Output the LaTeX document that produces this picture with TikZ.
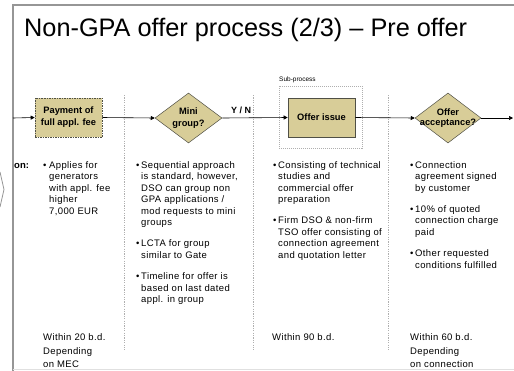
\documentclass[tikz,border=0pt]{standalone}
\usepackage{fontspec}
\setmainfont{Liberation Sans}
\newfontfamily\descfam[LetterSpace=4]{Liberation Sans}
\usetikzlibrary{shapes.geometric,arrows.meta}
\definecolor{khaki}{RGB}{216,205,152}
\definecolor{boxline}{RGB}{80,80,70}
\definecolor{framegray}{RGB}{150,150,150}
\definecolor{sepgray}{RGB}{175,175,175}
\newcommand{\txtlines}[1]{\begin{tabular}[t]{@{}l@{}}#1\end{tabular}}
\tikzset{
  desc/.style={font=\descfam\fontsize{9.5}{11.5}\selectfont, anchor=base west, inner sep=0pt},
  bul/.style={font=\fontsize{9.5}{11.5}\selectfont, anchor=base west, inner sep=0pt},
  boxtext/.style={font=\bfseries\fontsize{9.3}{12}\selectfont, align=center, inner sep=0pt},
  procbox/.style={draw=boxline, fill=khaki, minimum width=67pt, minimum height=39pt, inner sep=0pt, line width=0.6pt, font=\bfseries\fontsize{9.3}{12}\selectfont, align=center},
  decision/.style={diamond, draw=boxline, fill=khaki, minimum width=67pt, minimum height=50pt, inner sep=0pt, line width=0.5pt},
  subbox/.style={draw=sepgray, dash pattern=on 1pt off 1pt, line width=0.5pt, minimum width=83pt, minimum height=62pt, inner sep=0pt},
  flow/.style={draw=black, line width=0.6pt, -{Triangle[length=4pt,width=4pt]}},
  sepline/.style={draw=sepgray, line width=0.6pt, dash pattern=on 1.2pt off 1.2pt},
  framel/.style={draw=framegray, line width=1.6pt},
}
\begin{document}
\begin{tikzpicture}[x=1pt,y=-1pt]
\useasboundingbox (0,0) rectangle (514,370);
% frame
\draw[framel] (13,371) -- (13,5) -- (515,5);
\draw[draw=black!12, line width=0.6pt] (13,369) -- (514,369);
\draw[draw=framegray, line width=0.8pt] (0,172) -- (4,189.5) -- (0,207);
% title
\node[anchor=base west, inner sep=0pt, font=\fontsize{25.3}{30}\selectfont] (title) at (24,36) {Non-GPA offer process (2/3) \textendash{} Pre offer};
% separators
\draw[sepline] (124,95) -- (124,350);
\draw[sepline] (253,95) -- (253,350);
\draw[sepline] (388,95) -- (388,350);
% process elements
\node[subbox] (sub) at (320.5,117) {};
\node[anchor=south west, inner sep=0pt, font=\fontsize{6.5}{7}\selectfont] (sublabel) at (279,83.5) {Sub-process};
\node[procbox, dash pattern=on 1.5pt off 1pt] (pay) at (68.5,117.5) {Payment of\\full appl. fee};
\node[decision] (mini) at (188.5,118) {};
\node[boxtext] (minit) at (188.5,118) {Mini\\group?};
\node[procbox] (offer) at (321.5,117.5) {Offer issue};
\node[decision, minimum width=66pt] (acc) at (448,118) {};
\node[boxtext, font=\bfseries\fontsize{9.3}{10.5}\selectfont] (acct) at (448,118) {Offer\\acceptance?};
\node[anchor=base west, inner sep=0pt, font=\bfseries\fontsize{9}{10}\selectfont] (yn) at (231,113) {Y / N};
\coordinate (start) at (13,118);
\coordinate (end) at (513,118);
\draw[flow] (start) -- (pay.west);
\draw[flow] (pay.east) -- (mini.west);
\draw[flow] (mini.east) -- (offer.west);
\draw[flow] (offer.east) -- (acc.west);
\draw[flow] (acc.east) -- (end);
% descriptions
\node[anchor=base west, inner sep=0pt, font=\bfseries\fontsize{9.5}{11.5}\selectfont] (on) at (14,168) {on:};
\node[bul] (b1) at (43,168) {\textbullet};
\node[desc] (d1) at (49,168) {\txtlines{Applies for\\generators\\with appl. fee\\higher\\7,000 EUR}};
\node[bul] (b2a) at (136,168) {\textbullet};
\node[desc] (d2a) at (141,168) {\txtlines{Sequential approach\\is standard, however,\\DSO can group non\\GPA applications /\\mod requests to mini\\groups}};
\node[bul] (b2b) at (136,246.8) {\textbullet};
\node[desc] (d2b) at (141,246.8) {\txtlines{LCTA for group\\similar to Gate}};
\node[bul] (b2c) at (136,279.6) {\textbullet};
\node[desc] (d2c) at (141,279.6) {\txtlines{Timeline for offer is\\based on last dated\\appl. in group}};
\node[bul] (b3a) at (273,168) {\textbullet};
\node[desc] (d3a) at (278,168) {\txtlines{Consisting of technical\\studies and\\commercial offer\\preparation}};
\node[bul] (b3b) at (273,223.8) {\textbullet};
\node[desc] (d3b) at (278,223.8) {\txtlines{Firm DSO \& non-firm\\TSO offer consisting of\\connection agreement\\and quotation letter}};
\node[bul] (b4a) at (410,168) {\textbullet};
\node[desc] (d4a) at (415,168) {\txtlines{Connection\\agreement signed\\by customer}};
\node[bul] (b4b) at (410,212.3) {\textbullet};
\node[desc] (d4b) at (415,212.3) {\txtlines{10\% of quoted\\connection charge\\paid}};
\node[bul] (b4c) at (410,256.6) {\textbullet};
\node[desc] (d4c) at (415,256.6) {\txtlines{Other requested\\conditions fulfilled}};
% timings
\node[desc] (t1) at (43,340) {Within 20 b.d.};
\node[desc, font=\descfam\fontsize{9.5}{12.5}\selectfont] (t1b) at (43,354.5) {\txtlines{Depending\\on MEC}};
\node[desc] (t3) at (272,340) {Within 90 b.d.};
\node[desc] (t4) at (410,340) {Within 60 b.d.};
\node[desc, font=\descfam\fontsize{9.5}{12.5}\selectfont] (t4b) at (410,354.5) {\txtlines{Depending\\on connection}};
\end{tikzpicture}
\end{document}
